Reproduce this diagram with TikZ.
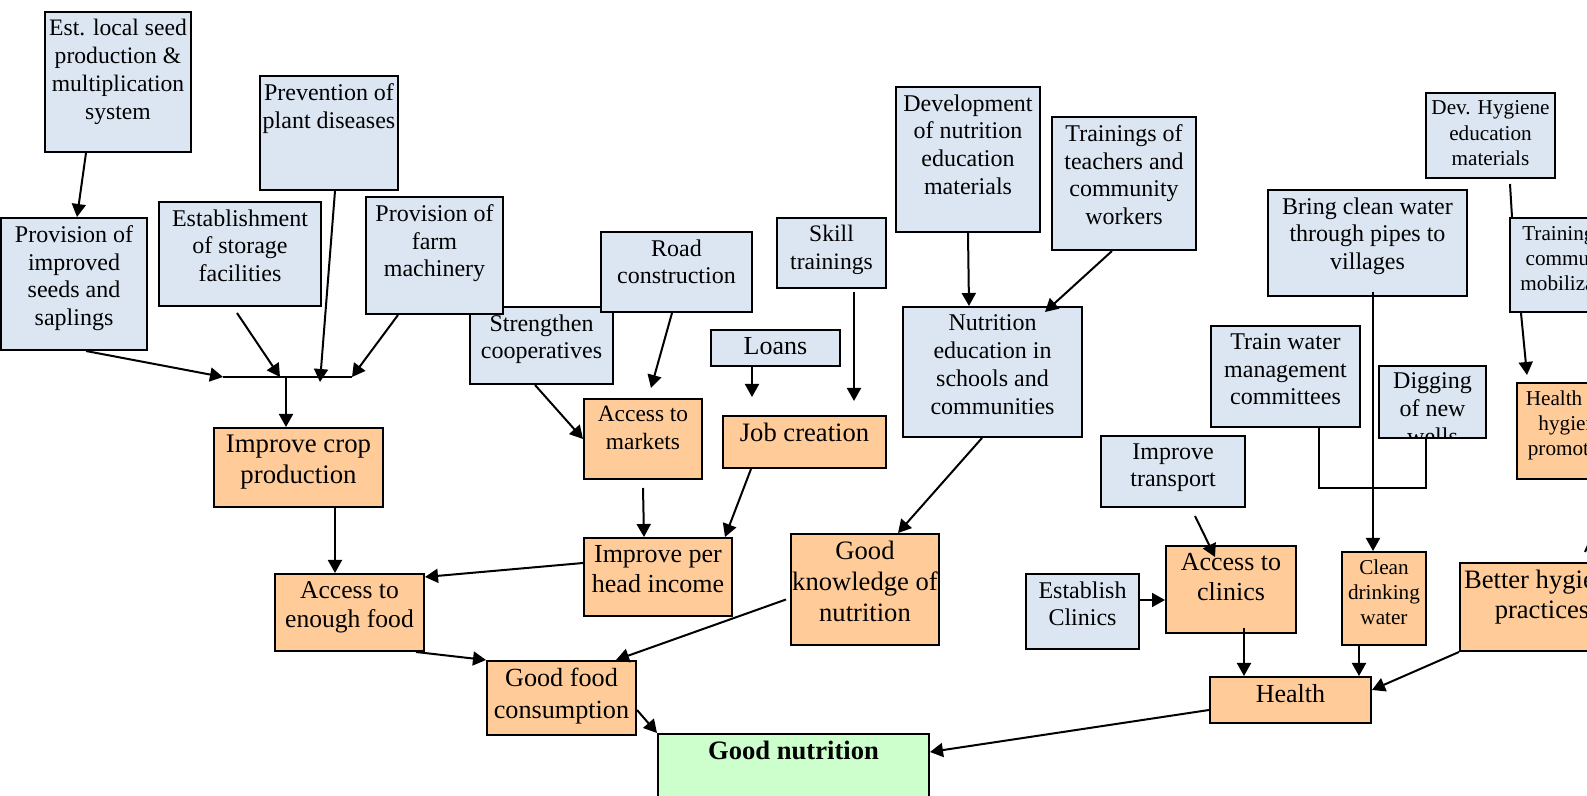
\documentclass[tikz,border=0pt]{standalone}
\usepackage{fontspec}
\setmainfont{Liberation Serif}
\usetikzlibrary{arrows.meta,fit,calc}
\definecolor{bluefill}{HTML}{DCE6F2}
\definecolor{orangefill}{HTML}{FFCC99}
\definecolor{greenfill}{HTML}{CCFFCC}
\newcommand\fsz[2]{\fontsize{#1}{#2}\selectfont}
\tikzset{
  bluebox/.style={rectangle, draw, line width=1pt, fill=bluefill, inner sep=0pt},
  orangebox/.style={rectangle, draw, line width=1pt, fill=orangefill, inner sep=0pt},
  greenbox/.style={rectangle, draw, line width=1pt, fill=greenfill, inner sep=0pt},
  lbl/.style={anchor=north, align=center, inner sep=0pt},
  conn/.style={line width=1pt},
  arr/.style={line width=1pt, -{Triangle[length=6.5pt,width=7pt]}}
}
\newcommand\bx[6]{%
  \node[#2, fit={(#3) (#4)}] (#1) {};
  \node[lbl, font={#5}] (#1-t) at ([yshift=-4pt]#1.north) {#6};}
\begin{document}
\begin{tikzpicture}[x=0.5pt,y=-0.5pt]
\useasboundingbox (0,0) rectangle (1587,796);
\clip (0,0) rectangle (1587,796);
% blue boxes
\bx{seed}{bluebox}{45,12}{191,152}{\fsz{11.8}{14}}{Est. local seed\\production \&\\multiplication\\system}
\bx{prev}{bluebox}{260,76}{398,190}{\fsz{12}{13.9}}{Prevention of\\plant diseases}
\bx{impseed}{bluebox}{1,218}{147,350}{\fsz{12}{13.9}}{Provision of\\improved\\seeds and\\saplings}
\bx{stor}{bluebox}{159,202}{321,306}{\fsz{12}{13.9}}{Establishment\\of storage\\facilities}
\bx{coop}{bluebox}{470,307}{613,384}{\fsz{12}{13.9}}{Strengthen\\cooperatives}
\bx{mach}{bluebox}{366,197}{503,314}{\fsz{12}{13.9}}{Provision of\\farm\\machinery}
\bx{road}{bluebox}{601,232}{752,312}{\fsz{12}{13.9}}{Road\\construction}
\bx{skill}{bluebox}{777,218}{886,288}{\fsz{11.8}{13.8}}{Skill\\trainings}
\bx{loans}{bluebox}{711,330}{840,366}{\fsz{13}{15}}{Loans}
\bx{devnut}{bluebox}{896,87}{1040,232}{\fsz{12}{13.9}}{Development\\of nutrition\\education\\materials}
\bx{teach}{bluebox}{1052,117}{1196,250}{\fsz{12}{13.9}}{Trainings of\\teachers and\\community\\workers}
\bx{nutedu}{bluebox}{903,307}{1082,437}{\fsz{12}{14.1}}{Nutrition\\education in\\schools and\\communities}
\bx{transp}{bluebox}{1101,436}{1245,507}{\fsz{12}{13.9}}{Improve\\transport}
\bx{estcl}{bluebox}{1026,574}{1139,649}{\fsz{12}{13.9}}{Establish\\Clinics}
\bx{pipes}{bluebox}{1268,190}{1467,296}{\fsz{12}{13.9}}{Bring clean water\\through pipes to\\villages}
\bx{trainw}{bluebox}{1211,326}{1360,427}{\fsz{12}{13.9}}{Train water\\management\\committees}
\node[bluebox, draw=none, fit={(1379,366) (1486,438)}] (dig) {};
\begin{scope}
\clip (dig.south west) rectangle (dig.north east);
\node[lbl, font={\fsz{12}{14}}] (dig-t) at ([yshift=-3.5pt]dig.north) {Digging\\of new\\wells};
\end{scope}
\node[bluebox, fill=none, fit={(1379,366) (1486,438)}] (dig-b) {};
\bx{devhyg}{bluebox}{1426,93}{1555,178}{\fsz{10.6}{12.8}}{Dev. Hygiene\\education\\materials}
\bx{trhyg}{bluebox}{1510,218}{1638,312}{\fsz{10.6}{12.6}}{Trainings of\\community\\mobilization}
% orange boxes
\bx{crop}{orangebox}{214,428}{383,507}{\fsz{13.4}{15.4}}{Improve crop\\production}
\bx{food}{orangebox}{275,574}{424,651}{\fsz{12.8}{14.8}}{Access to\\enough food}
\bx{mkts}{orangebox}{584,399}{702,479}{\fsz{11.7}{13.8}}{Access to\\markets}
\bx{job}{orangebox}{723,416}{886,468}{\fsz{13.3}{15}}{Job creation}
\bx{income}{orangebox}{584,538}{732,616}{\fsz{13}{15}}{Improve per\\head income}
\bx{know}{orangebox}{791,534}{939,645}{\fsz{13.3}{15.4}}{Good\\knowledge of\\nutrition}
\bx{cons}{orangebox}{487,661}{636,735}{\fsz{13.1}{15.6}}{Good food\\consumption}
\bx{clin}{orangebox}{1166,546}{1296,633}{\fsz{13}{15}}{Access to\\clinics}
\bx{clean}{orangebox}{1342,552}{1426,645}{\fsz{10.6}{12.5}}{Clean\\drinking\\water}
\bx{health}{orangebox}{1210,677}{1371,723}{\fsz{13}{15}}{Health}
\bx{hhp}{orangebox}{1517,383}{1627,479}{\fsz{10.6}{12.7}}{Health and\\hygiene\\promotion}
\bx{better}{orangebox}{1460,563}{1624,651}{\fsz{13.3}{15}}{Better hygiene\\practices}
\bx{nutr}{greenbox}{658,734}{929,830}{\bfseries\fsz{13.3}{15}}{Good nutrition}
% junction coordinates
\coordinate (j1) at (223,377);
\coordinate (j2) at (352,377);
\coordinate (jm) at (286,377);
\coordinate (js) at (280,377);
\coordinate (jp) at (320,382);
\coordinate (t1) at (1594,532);
\coordinate (t2) at (1585,552);
% connectors
\draw[arr] ([xshift=-16pt]seed.south) -- ([xshift=1.5pt]impseed.north);
\draw[conn] (j1) -- (j2);
\draw[arr] ([xshift=6pt]impseed.south) -- (j1);
\draw[arr] ([xshift=-1.5pt,yshift=-3pt]stor.south) -- (js);
\draw[arr] ([xshift=3pt]prev.south) -- (jp);
\draw[arr] ([xshift=-18.25pt]mach.south) -- (j2);
\draw[arr] (jm) -- ([xshift=-6.25pt]crop.north);
\draw[arr] ([xshift=18.25pt]crop.south) -- ([xshift=-7.25pt]food.north);
\draw[arr] ([xshift=-3.25pt]coop.south) -- (mkts.west);
\draw[arr] ([xshift=-2.25pt]road.south) -- ([xshift=4pt,yshift=5pt]mkts.north);
\draw[arr] ([xshift=-11.75pt]loans.south) -- ([xshift=-26.25pt,yshift=9pt]job.north);
\draw[arr] ([xshift=11.25pt,yshift=-1.5pt]skill.south) -- ([xshift=24.75pt,yshift=7pt]job.north);
\draw[arr] ([yshift=-4pt]mkts.south) -- ([xshift=-7pt]income.north);
\draw[arr] ([xshift=-26.75pt]job.south) -- ([xshift=-4pt]income.north east);
\draw[arr] ([yshift=7pt]income.west) -- ([yshift=17.75pt]food.east);
\draw[arr] ([xshift=-4.5pt]food.south east) -- (cons.north west);
\draw[arr] ([xshift=-2pt,yshift=-5pt]know.west) -- ([xshift=27.25pt]cons.north);
\draw[arr] ([yshift=-6pt]cons.east) -- (nutr.north west);
\draw[arr] ([xshift=-5.25pt]nutedu.south) -- ([xshift=16.5pt]know.north);
\draw[arr] (devnut.south) -- ([xshift=-11.75pt]nutedu.north);
\draw[arr] ([xshift=-6pt]teach.south) -- ([xshift=-19pt,yshift=-3pt]nutedu.north east);
\draw[arr] ([xshift=11pt,yshift=-4pt]transp.south) -- ([xshift=-8pt,yshift=-6pt]clin.north);
\draw[arr] ([yshift=5.75pt]estcl.east) -- ([yshift=-5.25pt]clin.west);
\draw[arr] ([xshift=6.5pt,yshift=3pt]clin.south) -- ([xshift=-23.25pt]health.north);
\draw[arr] ([yshift=-5pt]health.west) -- ([yshift=15pt]nutr.east);
\draw[arr] ([xshift=2.75pt,yshift=2.5pt]pipes.south) -- ([xshift=-5.5pt]clean.north);
\draw[conn] ([xshift=16.75pt]trainw.south) -- ++(0,60) -| ([xshift=-3.25pt]dig-b.south);
\draw[arr] ([xshift=-12.5pt]clean.south) -- ([xshift=34.25pt]health.north);
\draw[arr] (better.south west) -- ([yshift=5pt]health.east);
\draw[conn] ([xshift=9.75pt,yshift=-2.5pt]devhyg.south) -- ([xshift=1.5pt]trhyg.north west);
\draw[arr] ([xshift=6pt]trhyg.south west) -- ([xshift=5.5pt,yshift=3.5pt]hhp.north west);
\draw[conn] (t1) -- (t2);
\end{tikzpicture}
\end{document}
